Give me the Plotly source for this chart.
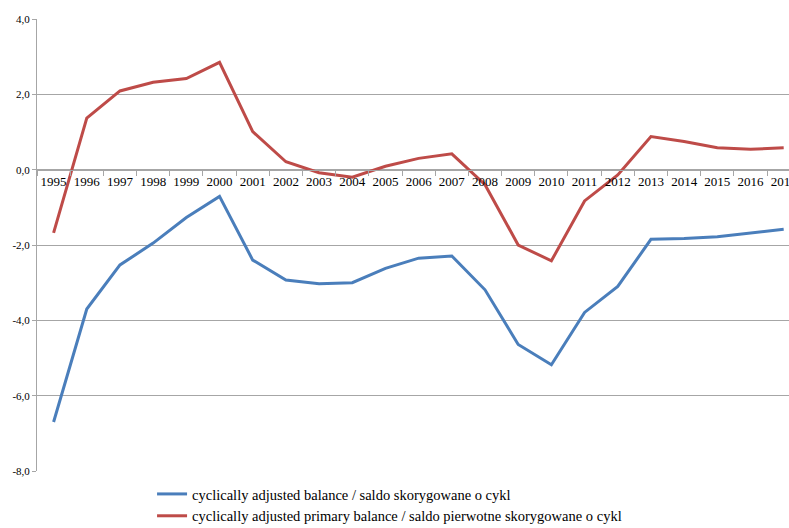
import plotly.graph_objects as go

# Years on the category axis
years = [str(y) for y in range(1995, 2018)]

# Cyclically adjusted balance (% of GDP)
balance = [-6.7, -3.7, -2.53, -1.95, -1.27, -0.71, -2.40, -2.93, -3.03, -3.0,
           -2.62, -2.35, -2.29, -3.19, -4.64, -5.18, -3.79, -3.10, -1.85, -1.83,
           -1.78, -1.69, -1.58]

# Cyclically adjusted primary balance (% of GDP)
primary_balance = [-1.68, 1.37, 2.09, 2.32, 2.42, 2.85, 1.01, 0.21, -0.08, -0.2,
                   0.09, 0.30, 0.42, -0.4, -2.0, -2.42, -0.83, -0.14, 0.88, 0.75,
                   0.58, 0.54, 0.58]

y_tickvals = [-8, -6, -4, -2, 0, 2, 4]
y_ticktext = ["-8,0", "-6,0", "-4,0", "-2,0", "0,0", "2,0", "4,0"]

series_names = [
    "cyclically adjusted balance / saldo skorygowane o cykl",
    "cyclically adjusted primary balance / saldo pierwotne skorygowane o cykl",
]

BLUE = "#4A7EBB"
RED = "#BE4B48"
GRID = "#A6A6A6"
FONT = "Liberation Serif, DejaVu Serif, serif"

fig = go.Figure()
fig.add_trace(go.Scatter(x=years, y=balance, mode="lines", name=series_names[0],
                         line=dict(color=BLUE, width=3)))
fig.add_trace(go.Scatter(x=years, y=primary_balance, mode="lines", name=series_names[1],
                         line=dict(color=RED, width=3)))

y_min, y_max = -8, 4

fig.update_layout(
    width=789, height=528,
    margin=dict(l=37, r=0, t=19, b=57, autoexpand=False),
    paper_bgcolor="white", plot_bgcolor="white",
    font=dict(family=FONT, color="black"),
    showlegend=True,
    legend=dict(
        orientation="v", x=0.153, xanchor="left",
        yref="container", y=1 - 478 / 528, yanchor="top",
        font=dict(family=FONT, size=14.5, color="black"),
        itemwidth=30, bgcolor="rgba(0,0,0,0)",
    ),
    xaxis=dict(
        type="category", range=[-0.5, 22.16],
        anchor="free", position=(0 - y_min) / (y_max - y_min),
        showline=True, linecolor=GRID, linewidth=1,
        ticks="outside", tickson="boundaries", ticklen=5, tickcolor=GRID,
        showgrid=False, tickfont=dict(family=FONT, size=13, color="black"),
        tickangle=0,
    ),
    yaxis=dict(
        range=[y_min, y_max], tickvals=y_tickvals, ticktext=y_ticktext,
        showline=True, linecolor=GRID, linewidth=1,
        ticks="outside", ticklen=4, tickcolor=GRID,
        showgrid=True, gridcolor=GRID, gridwidth=1, zeroline=False,
        tickfont=dict(family=FONT, size=11, color="black"),
    ),
)

fig.write_html("out.html")
